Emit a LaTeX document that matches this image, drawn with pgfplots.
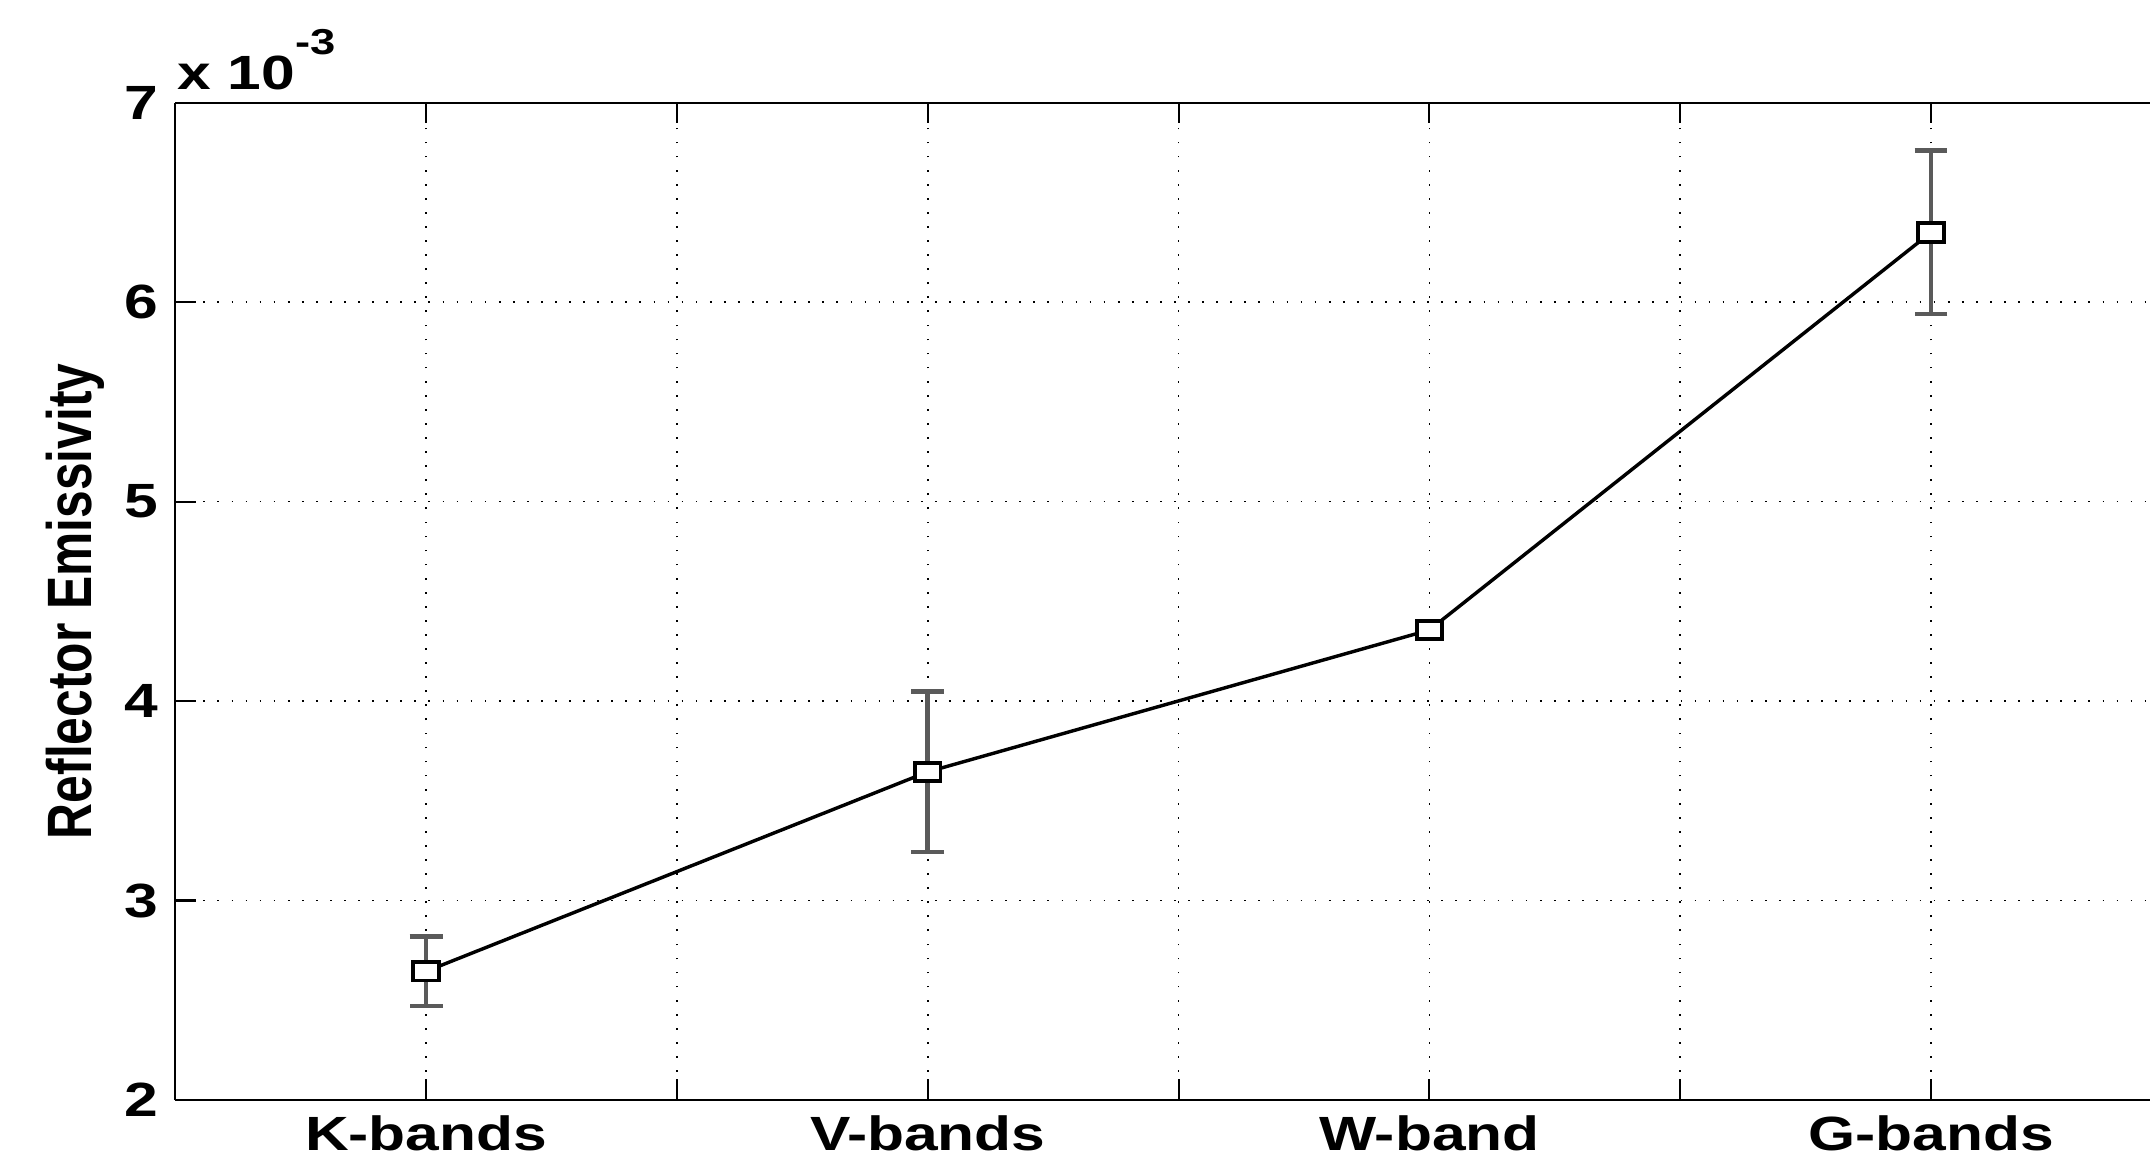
\documentclass[border=0pt]{standalone}
\usepackage{fontspec}
\setmainfont{Liberation Sans}
\newfontfamily\wide{Liberation Sans}[FakeStretch=1.26]
\usepackage{graphicx}
\usepackage{pgfplots}
\pgfplotsset{compat=1.18}
\definecolor{errgray}{RGB}{90,90,90}

\pgfplotstableread{
x y
1 2.645
2 3.645
3 4.356
4 6.349
}\meantable

\pgfplotstableread{
x y err
1 2.645 0.174
2 3.645 0.402
4 6.349 0.409
}\errtable

\begin{document}
\begin{tikzpicture}
\useasboundingbox (0,0) rectangle (627.2pt,336.8pt);
\begin{axis}[
 at={(51.08pt,16.2pt)}, anchor=south west,
 scale only axis, width=575.6pt, height=290.7pt,
 xmin=0.5, xmax=4.437, ymin=2, ymax=7,
 axis y line*=left,
 xtick={1,2,3,4}, xticklabels={K-bands,V-bands,W-band,G-bands},
 minor xtick={1.5,2.5,3.5},
 ytick={2,3,4,5,6,7},
 grid=both,
 major grid style={black, line width=0.5pt, dash pattern=on 0.5pt off 3.6pt},
 minor grid style={black, line width=0.5pt, dash pattern=on 0.5pt off 3.6pt},
 tick align=inside,
 major tick length=6pt, minor tick length=6pt,
 tick style={black, line width=0.6pt},
 axis line style={black, line width=0.6pt},
 ticklabel style={font=\wide\bfseries\fontsize{14}{16}\selectfont},
 /pgf/number format/assume math mode=true,
 xticklabel style={anchor=north, inner sep=0pt, yshift=-4.3pt},
 yticklabel style={anchor=east, inner sep=0pt, xshift=-4.7pt},
 scaled y ticks=false,
 ylabel={\scalebox{1}[1.26]{Reflector Emissivity}},
 ylabel style={font=\bfseries\fontsize{14.5}{16}\selectfont, at={(axis description cs:-0.0508,0.5)}, anchor=center},
 clip=false,
]
\addplot[draw=none, mark=none, forget plot,
  error bars/.cd, y dir=both, y explicit,
  error bar style={draw=errgray, line width=1.4pt},
  error mark options={draw=errgray, line width=1.4pt, mark size=4.8pt, rotate=90}]
  table[x=x, y=y, y error=err] {\errtable};
\addplot[only marks, mark=square*, mark size=3.2pt,
  mark options={xscale=1.16, yscale=0.84, draw=black, fill=white, line width=1.1pt}]
  table[x=x, y=y] {\meantable};
\addplot[black, line width=1.0pt, mark=none] table[x=x, y=y] {\meantable};
\node[anchor=base west, inner sep=0pt, font=\wide\bfseries\fontsize{14}{16}\selectfont]
  at ([xshift=0.4pt, yshift=3.9pt]rel axis cs:0,1) {x 10\raisebox{10pt}{\fontsize{10.5}{12}\selectfont -3}};
\end{axis}
\end{tikzpicture}
\end{document}
